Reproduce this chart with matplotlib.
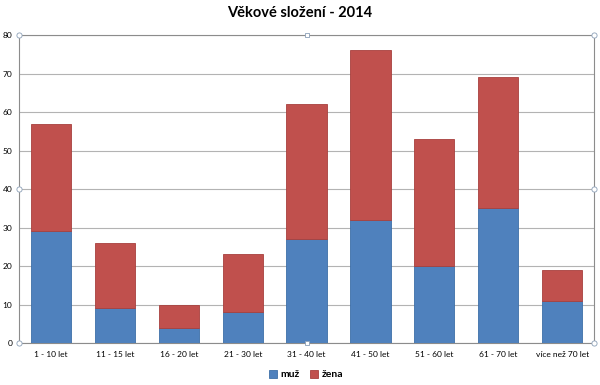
import numpy as np
import matplotlib
matplotlib.use('Agg')
import matplotlib.pyplot as plt

kategorie = ['1 - 10 let', '11 - 15 let', '16 - 20 let', '21 - 30 let', '31 - 40 let',
             '41 - 50 let', '51 - 60 let', '61 - 70 let', 'více než 70 let']
muz = [29, 9, 4, 8, 27, 32, 20, 35, 11]
zena = [28, 17, 6, 15, 35, 44, 33, 34, 8]
yticks = [0, 10, 20, 30, 40, 50, 60, 70, 80]

plt.rcParams['font.family'] = ['Lato', 'DejaVu Sans']

fig = plt.figure(figsize=(6, 3.85), dpi=100)
ax = fig.add_axes([0.032, 0.109, 0.958, 0.8])

x = np.arange(len(kategorie))
ax.bar(x, muz, width=0.63, color='#4F81BD', edgecolor='#3D6FA8', linewidth=0.6,
       label='muž', zorder=3)
ax.bar(x, zena, width=0.63, bottom=muz, color='#C0504D', edgecolor='#A8403D',
       linewidth=0.6, label='žena', zorder=3)

ax.set_xlim(-0.5, len(kategorie) - 0.5)
ax.set_ylim(0, 80)
ax.set_yticks(yticks)
ax.set_xticks(x)
ax.set_xticklabels(kategorie, fontsize=6)
ax.tick_params(axis='y', labelsize=6, length=0, pad=5)
ax.tick_params(axis='x', length=0, pad=6)
ax.grid(axis='y', color='#B3B3B3', linewidth=0.8, zorder=0)

for s in ['left', 'right', 'top', 'bottom']:
    ax.spines[s].set_color('#8C8C8C')
    ax.spines[s].set_linewidth(0.8)

# selection handles of the chart area
hx = [-0.5, 8.5, -0.5, 8.5, -0.5, 8.5]
hy = [80, 80, 0, 0, 40, 40]
ax.scatter(hx, hy, s=14, marker='o', facecolor='white', edgecolor='#8CA0B8',
           linewidth=0.6, zorder=5, clip_on=False)
ax.scatter([4, 4], [80, 0], s=12, marker='s', facecolor='white', edgecolor='#8CA0B8',
           linewidth=0.6, zorder=5, clip_on=False)

fig.suptitle('Věkové složení - 2014', x=0.5, y=0.985, fontsize=10.5, fontweight='bold')
fig.legend(loc='lower center', bbox_to_anchor=(0.51, -0.01), ncol=2, frameon=False,
           handlelength=0.8, handleheight=0.8, handletextpad=0.3,
           columnspacing=1.0, prop={'weight': 'bold', 'size': 7.5})

fig.savefig('out.png', dpi=100)
